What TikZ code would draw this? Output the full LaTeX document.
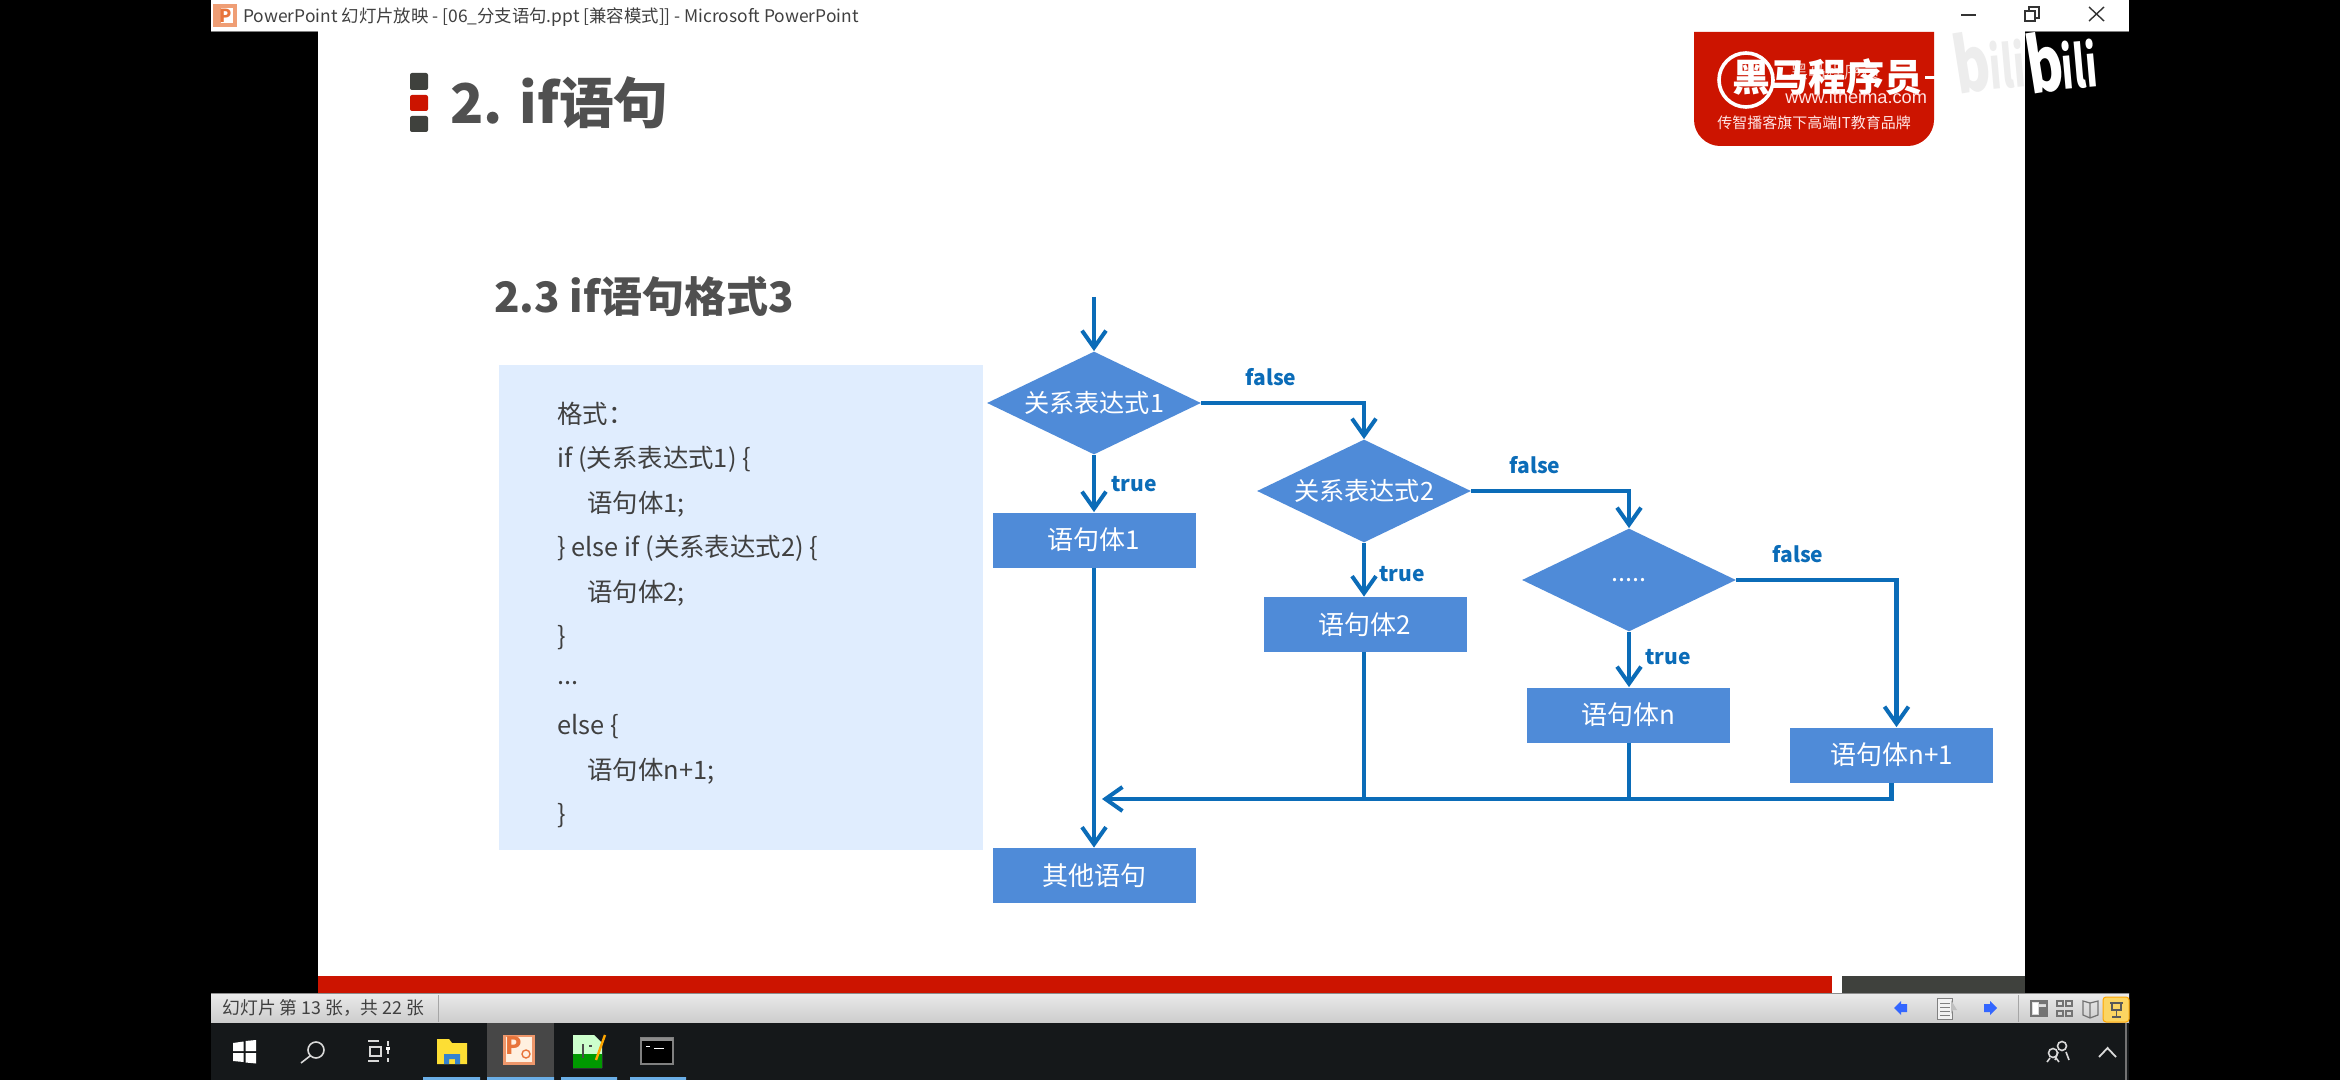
\documentclass[tikz,border=0pt]{standalone}
\usepackage{fontspec}
\setmainfont{Noto Sans CJK SC}
\newfontfamily\arialish{Liberation Sans}
\usetikzlibrary{shapes.geometric,arrows.meta}
\definecolor{flowfill}{HTML}{4F8BD8}
\definecolor{flowline}{HTML}{0B6CB8}
\definecolor{panelfill}{HTML}{E0EDFE}
\definecolor{inktext}{HTML}{404040}
\definecolor{headtext}{HTML}{505050}
\definecolor{redbar}{HTML}{CC1400}
\definecolor{graybar}{HTML}{3F413D}
\definecolor{taskbg}{HTML}{15181A}
\definecolor{taskblue}{HTML}{6AAEE6}
\definecolor{pptorange}{HTML}{E8743A}
\tikzset{
  x=0.5pt,y=-0.5pt,
  box/.style={rectangle,fill=flowfill,text=white,font=\fontsize{13}{15}\selectfont,minimum width=101.5pt,minimum height=27.5pt,inner sep=0pt},
  choice/.style={diamond,shape aspect=2.07,fill=flowfill,text=white,font=\fontsize{12.6}{15}\selectfont,minimum width=107pt,minimum height=51.5pt,inner sep=0pt},
  conn/.style={draw=flowline,line width=2.3pt,-{Straight Barb[length=8.5pt,width=12pt,line width=2pt]}},
  plainconn/.style={draw=flowline,line width=2.3pt},
  flag/.style={text=flowline,font=\fontsize{10.5}{12}\selectfont\bfseries,inner sep=0pt},
  code/.style={text=inktext,font=\fontsize{12.7}{15}\selectfont,inner sep=0pt,anchor=west},
  ui/.style={text=inktext,font=\fontsize{8.7}{11}\selectfont,inner sep=0pt,anchor=west},
  biglet/.style={inner sep=0pt,anchor=center,rotate=9,font=\fontsize{38}{40}\selectfont\bfseries},
  smalllet/.style={inner sep=0pt,anchor=center,rotate=5,font=\fontsize{29}{31}\selectfont\bfseries},
}
\begin{document}
\begin{tikzpicture}
\useasboundingbox (0,0) rectangle (2340,1080);
\fill[black] (0,0) rectangle (2340,1080);
% window
\fill[white] (211,0) rectangle (2129,32);
\fill[white] (318,32) rectangle (2025,976);
\draw[gray,line width=0.5pt] (2025,32) -- (2129,32) (211,32) -- (318,32);
% title bar
\fill[pptorange!70!white] (213,4) rectangle (237,27);
\fill[white] (221,8) rectangle (233,23);
\node[inner sep=0pt,text=pptorange,font=\fontsize{9}{10}\selectfont\bfseries] (pp) at (226,15.5) {P};
\node[ui] (titlebar) at (243,17) {PowerPoint 幻灯片放映 - [06\_分支语句.ppt [兼容模式]] - Microsoft PowerPoint};
\draw[black!80,line width=0.7pt] (1961,15) -- (1976,15);
\draw[black!80,line width=0.7pt] (2025,11) rectangle (2035,21);
\draw[black!80,line width=0.7pt] (2029,11) -- (2029,7) -- (2039,7) -- (2039,18) -- (2035,18);
\draw[black!80,line width=0.7pt] (2089,7) -- (2104,21) (2104,7) -- (2089,21);
% heading
\fill[graybar,rounded corners=1pt] (410,73) rectangle (428,90);
\fill[redbar,rounded corners=1pt] (410,95) rectangle (428,111);
\fill[graybar,rounded corners=1pt] (410,116) rectangle (428,132);
\node[inner sep=0pt,anchor=west,text=headtext,font=\fontsize{27.4}{30}\selectfont\bfseries] (h1) at (450,103) {2. if语句};
\node[inner sep=0pt,anchor=west,text=headtext,font=\fontsize{21}{24}\selectfont\bfseries] (h2) at (494,297) {2.3 if语句格式3};
% logo
\fill[redbar] (1694,32) -- (1934,32) -- (1934,120) .. controls (1934,134) and (1922,146) .. (1908,146) -- (1720,146) .. controls (1706,146) and (1694,134) .. (1694,120) -- cycle;
\draw[white,line width=1.8pt] (1746,80) circle[radius=27];
\node[inner sep=0pt,anchor=west,text=white!75!redbar,font=\fontsize{9}{10}\selectfont] (w0) at (1790,72) {黑马程序员};
\node[inner sep=0pt,anchor=west,text=white,font=\fontsize{19}{22}\selectfont\bfseries] (w1) at (1732,77) {黑马程序员};
\fill[white] (1925,76) rectangle (1935,79);
\node[inner sep=0pt,anchor=west,text=white!90!red,font=\fontsize{9.1}{12}\selectfont\arialish] (w2) at (1785,97) {www.itheima.com};
\node[inner sep=0pt,anchor=west,text=white!90!red,font=\fontsize{7.5}{9}\selectfont] (w3) at (1717,123) {传智播客旗下高端IT教育品牌};
% bilibili
\node[biglet,text=black!7] (b1) at (1972,62) {\scalebox{.72}[1]{b}};
\node[smalllet,text=black!7] (b2) at (2007,64) {\scalebox{.62}[1]{ili}};
\node[biglet,text=white] (b3) at (2045,62) {\scalebox{.72}[1]{b}};
\node[smalllet,text=white] (b4) at (2079,64) {\scalebox{.62}[1]{ili}};
% code panel
\fill[panelfill] (499,365) rectangle (983,850);
\node[code] (c1) at (557,414) {格式：};
\node[code] (c2) at (557,459) {if (关系表达式1) \{};
\node[code] (c3) at (587,504) {语句体1;};
\node[code] (c4) at (557,548) {\} else if (关系表达式2) \{};
\node[code] (c5) at (587,593) {语句体2;};
\node[code] (c6) at (557,638) {\}};
\node[code] (c7) at (557,683) {...};
\node[code] (c8) at (557,727) {else \{};
\node[code] (c9) at (587,771) {语句体n+1;};
\node[code] (c10) at (557,816) {\}};
% flow nodes
\coordinate (start) at (1094,297);
\node[choice] (d1) at (1094,403) {关系表达式1};
\node[box] (r1) at (1094,540) {语句体1};
\node[choice] (d2) at (1364,491) {关系表达式2};
\node[box] (r2) at (1365,624.5) {语句体2};
\node[choice] (d3) at (1629,580) {.....};
\node[box] (rn) at (1628.5,715) {语句体n};
\node[box] (rm) at (1891.5,755) {语句体n+1};
\node[box] (other) at (1094,875.5) {其他语句};
\coordinate (merge) at (1102,799);
% connectors
\draw[conn] (start) -- (d1.north);
\draw[conn] (d1.south) -- (r1.north);
\draw[conn] (d1.east) -| (d2.north);
\draw[conn] (d2.south) -- (r2.north -| d2.south);
\draw[conn] (d2.east) -| (d3.north);
\draw[conn] (d3.south) -- (rn.north -| d3.south);
\draw[conn] (d3.east) -| ([xshift=2.5pt]rm.north);
\draw[conn] (r1.south) -- (other.north);
\draw[conn] (rm.south) |- (merge);
\draw[plainconn] (r2.south -| d2.south) -- (d2.south |- merge);
\draw[plainconn] (rn.south -| d3.south) -- (d3.south |- merge);
\node[flag] (f1) at (1271,377) {false};
\node[flag] (f2) at (1535,465) {false};
\node[flag] (f3) at (1798,554) {false};
\node[flag] (t1) at (1134,484) {true};
\node[flag] (t2) at (1402,574) {true};
\node[flag] (t3) at (1668,657) {true};
% footer bars
\fill[redbar] (318,976) rectangle (1832,993);
\fill[white] (1832,976) rectangle (1842,993);
\fill[graybar] (1842,976) rectangle (2025,993);
% status bar
\shade[top color=black!8,bottom color=black!20] (211,993) rectangle (2129,1023);
\draw[black!45,line width=0.5pt] (211,993) -- (2129,993) (211,1023) -- (2129,1023);
\node[ui,font=\fontsize{8.9}{11}\selectfont] (st) at (222,1008) {幻灯片 第 13 张，共 22 张};
\draw[black!35,line width=0.5pt] (438,995) -- (438,1022) (2018,995) -- (2018,1022);
% status icons
\fill[blue!75!cyan!80!white] (1894,1008) -- (1901,1001) -- (1901,1004) -- (1907,1004) -- (1907,1012) -- (1901,1012) -- (1901,1015) -- cycle;
\fill[blue!75!cyan!80!white] (1997,1008) -- (1990,1001) -- (1990,1004) -- (1984,1004) -- (1984,1012) -- (1990,1012) -- (1990,1015) -- cycle;
\filldraw[draw=black!50,fill=black!5,line width=0.5pt] (1937,998) rectangle (1952,1019);
\draw[black!50,line width=0.5pt] (1940,1003) -- (1950,1003) (1940,1007) -- (1950,1007) (1940,1011) -- (1950,1011) (1940,1015) -- (1950,1015);
\fill[black!25] (1951,1000) -- (1957,1010) -- (1953,1010) -- (1951,1014) -- cycle;
\draw[black!55,line width=0.7pt] (2031,1001) rectangle (2047,1016);
\fill[black!55] (2039,1001) rectangle (2047,1004) (2039,1007) rectangle (2047,1016);
\fill[white] (2033,1003) rectangle (2038,1014);
\draw[black!55,line width=0.7pt] (2057,1001) rectangle (2063,1006) (2066,1001) rectangle (2072,1006) (2057,1011) rectangle (2063,1016) (2066,1011) rectangle (2072,1016);
\draw[black!55,line width=0.6pt] (2090,1003) -- (2083,1001) -- (2083,1015) -- (2090,1018) -- (2098,1015) -- (2098,1001) -- cycle (2090,1003) -- (2090,1018);
\filldraw[draw=orange!70!yellow,fill=yellow!50!orange!60!white,line width=0.5pt,rounded corners=1.5pt] (2103,997) rectangle (2129,1022);
\draw[black!65,line width=0.9pt] (2110,1003) -- (2123,1003);
\draw[black!65,line width=0.7pt] (2112,1003) rectangle (2121,1010) (2116.5,1010) -- (2116.5,1017) (2112,1017) -- (2121,1017);
% taskbar
\fill[taskbg] (211,1023) rectangle (2129,1080);
\fill[black!72!white] (487,1023) rectangle (554,1080);
\fill[taskblue] (423,1077) rectangle (480,1080) (487,1077) rectangle (554,1080) (561,1077) rectangle (617,1080) (630,1077) rectangle (686,1080);
\fill[white] (233,1043) -- (243.5,1041.5) -- (243.5,1051) -- (233,1051) -- cycle (245.5,1041) -- (256,1040) -- (256,1051) -- (245.5,1051) -- cycle (233,1053) -- (243.5,1053) -- (243.5,1062) -- (233,1061) -- cycle (245.5,1053) -- (256,1053) -- (256,1063.5) -- (245.5,1062.5) -- cycle;
\draw[white!85!black,line width=0.8pt] (316,1050) circle[radius=8] (310,1056) -- (301,1063);
\draw[white!85!black,line width=0.8pt] (368,1041) -- (379,1041) (368,1061) -- (379,1061) (370,1047) rectangle (381,1056) (388,1041) -- (388,1046) (388,1050) -- (388,1054) (388,1058) -- (388,1062);
\fill[white] (386,1047) rectangle (390,1050);
\fill[yellow!75!orange!80!white] (437,1039) -- (449,1039) -- (452,1043) -- (467,1043) -- (467,1064) -- (437,1064) -- cycle;
\fill[cyan!55!blue!85!white] (444,1064) -- (444,1054) -- (460,1054) -- (460,1064) -- (455,1064) -- (455,1059) -- (449,1059) -- (449,1064) -- cycle;
\fill[pptorange!75!white] (503,1035) rectangle (535,1065);
\fill[orange!12!white] (506,1037) rectangle (532,1062);
\node[inner sep=0pt,text=pptorange,font=\fontsize{12}{13}\selectfont\bfseries] (pp2) at (514,1046) {P};
\draw[pptorange,line width=0.7pt] (526,1054) circle[radius=4];
\fill[white!80!green] (573,1035) -- (594,1035) -- (602,1043) -- (602,1068) -- (573,1068) -- cycle;
\fill[green!60!black] (573,1054) rectangle (602,1068);
\draw[black!70,line width=0.7pt] (583,1044) -- (583,1058) (589,1046) -- (592,1046);
\draw[orange!70!yellow,line width=1.2pt] (596,1060) -- (605,1035);
\filldraw[draw=black!50,fill=black,line width=0.6pt] (641,1038) rectangle (673,1064);
\fill[black!45] (641,1038) rectangle (673,1041);
\draw[white,line width=0.5pt] (646,1046) -- (650,1046) (654,1048) -- (664,1048);
\draw[white!85!black,line width=0.8pt] (2062,1046) circle[radius=4.5] (2055,1060) -- (2058,1052) (2069,1060) -- (2066,1052);
\draw[white!85!black,line width=0.8pt] (2053,1053) circle[radius=4.5] (2047,1062) -- (2050,1058) (2059,1062) -- (2056,1058);
\draw[white!85!black,line width=0.9pt] (2099,1057) -- (2107.5,1048) -- (2116,1057);
\draw[black!55,line width=0.6pt] (2126,1023) -- (2126,1080);
\end{tikzpicture}
\end{document}
